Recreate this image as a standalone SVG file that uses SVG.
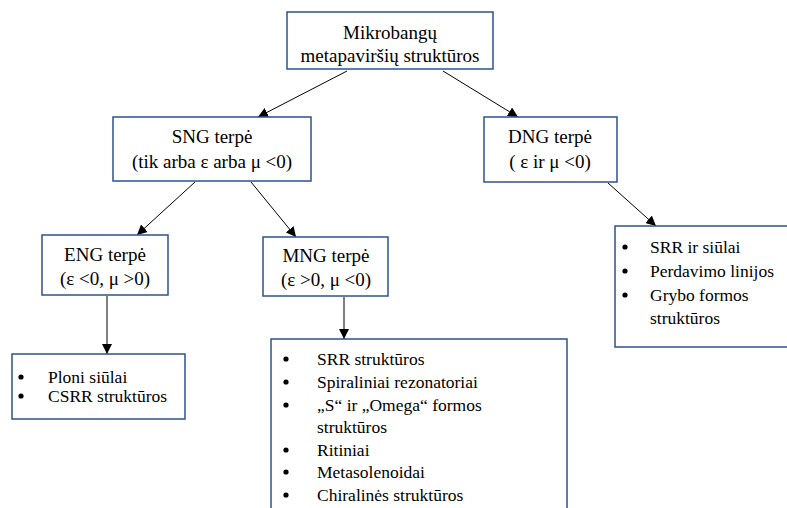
<svg xmlns="http://www.w3.org/2000/svg" width="787" height="508" viewBox="0 0 787 508">
<style>
.box{fill:#fff;stroke:#2F528F;stroke-width:1.5}
.t{font-family:'Liberation Serif','DejaVu Serif',serif;font-size:19px;fill:#000}
.l{font-family:'Liberation Serif','DejaVu Serif',serif;font-size:17.5px;fill:#000}
.b{fill:#000}
.c{text-anchor:middle}
.ln{stroke:#000;stroke-width:1;fill:none;marker-end:url(#ah)}
</style>
<defs>
<marker id="ah" viewBox="0 0 10 10" refX="10" refY="5" markerWidth="10" markerHeight="10" markerUnits="userSpaceOnUse" orient="auto">
<path d="M0,0 L10,5 L0,10 z" fill="#000"/>
</marker>
</defs>
<rect width="787" height="508" fill="#fff"/>
<g id="connectors">
<line class="ln" x1="347" y1="71" x2="258" y2="117"/>
<line class="ln" x1="443" y1="71" x2="518" y2="117"/>
<line class="ln" x1="195" y1="182" x2="137" y2="235"/>
<line class="ln" x1="251" y1="182" x2="296" y2="237"/>
<line class="ln" x1="107" y1="296" x2="107" y2="354"/>
<line class="ln" x1="344" y1="297" x2="344" y2="339"/>
<line class="ln" x1="608" y1="183" x2="656" y2="226"/>
</g>
<g id="root">
<rect class="box" x="287" y="12" width="206" height="57"/>
<text class="t c" x="390" y="39">Mikrobangų</text>
<text class="t c" x="390" y="62">metapaviršių struktūros</text>
</g>
<g id="sng">
<rect class="box" x="113" y="117" width="198" height="64"/>
<text class="t c" x="212" y="143">SNG terpė</text>
<text class="t c" x="212" y="168">(tik arba ε arba μ &lt;0)</text>
</g>
<g id="dng">
<rect class="box" x="484" y="117" width="133" height="65"/>
<text class="t c" x="550" y="143">DNG terpė</text>
<text class="t c" x="550" y="168">( ε ir μ &lt;0)</text>
</g>
<g id="eng">
<rect class="box" x="42" y="235" width="126" height="60"/>
<text class="t c" x="105" y="261">ENG terpė</text>
<text class="t c" x="105" y="285">(ε &lt;0, μ &gt;0)</text>
</g>
<g id="mng">
<rect class="box" x="263" y="237" width="125" height="59"/>
<text class="t c" x="326" y="262">MNG terpė</text>
<text class="t c" x="326" y="286">(ε &gt;0, μ &lt;0)</text>
</g>
<g id="eng-list">
<rect class="box" x="12" y="354" width="173" height="65"/>
<circle class="b" cx="21" cy="377" r="2.6"/><text class="l" x="48" y="383">Ploni siūlai</text>
<circle class="b" cx="21" cy="396" r="2.6"/><text class="l" x="48" y="402">CSRR struktūros</text>
</g>
<g id="mng-list">
<rect class="box" x="271" y="339" width="296" height="175"/>
<circle class="b" cx="286" cy="359" r="2.6"/><text class="l" x="317" y="365">SRR struktūros</text>
<circle class="b" cx="286" cy="382" r="2.6"/><text class="l" x="317" y="388">Spiraliniai rezonatoriai</text>
<circle class="b" cx="286" cy="405" r="2.6"/><text class="l" x="317" y="411">„S“ ir „Omega“ formos</text>
<text class="l" x="317" y="433">struktūros</text>
<circle class="b" cx="286" cy="450" r="2.6"/><text class="l" x="317" y="456">Ritiniai</text>
<circle class="b" cx="286" cy="472" r="2.6"/><text class="l" x="317" y="478">Metasolenoidai</text>
<circle class="b" cx="286" cy="495" r="2.6"/><text class="l" x="317" y="501">Chiralinės struktūros</text>
</g>
<g id="dng-list">
<rect class="box" x="615" y="226" width="180" height="121"/>
<circle class="b" cx="625" cy="247" r="2.6"/><text class="l" x="650" y="253">SRR ir siūlai</text>
<circle class="b" cx="625" cy="271" r="2.6"/><text class="l" x="650" y="277">Perdavimo linijos</text>
<circle class="b" cx="625" cy="295" r="2.6"/><text class="l" x="650" y="301">Grybo formos</text>
<text class="l" x="650" y="324">struktūros</text>
</g>
</svg>
